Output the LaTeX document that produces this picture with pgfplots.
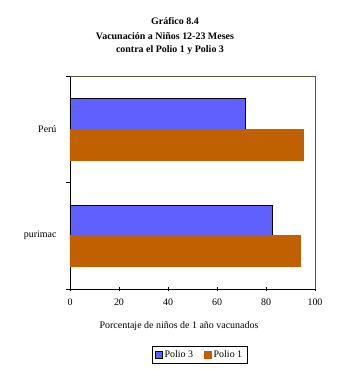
\documentclass[border=0pt]{standalone}
\usepackage{pgfplots}
\pgfplotsset{compat=1.18}
\usepackage{fontspec}
\setmainfont{Liberation Serif}
\definecolor{pblue}{RGB}{96,96,255}
\definecolor{porange}{RGB}{192,96,0}
\definecolor{frame}{RGB}{85,85,56}
\begin{document}
\begin{tikzpicture}
\begin{axis}[
  at={(0,0)}, anchor=south west,
  scale only axis, width=245bp, height=213bp,
  xbar, bar width=0.288,
  xmin=0, xmax=100, ymin=-0.5, ymax=1.5,
  axis x line*=bottom, axis y line*=left,
  axis line style={black, line width=0.6pt},
  xtick={0,20,...,100},
  tick align=outside,
  major tick length=4bp,
  x tick style={black, line width=0.6pt, yshift=2bp},
  ytick={-0.5,0.5,1.5},
  y tick label as interval,
  yticklabels={purimac,Perú},
  y tick style={black, line width=0.6pt},
  yticklabel style={anchor=east, xshift=-6bp, font=\fontsize{10}{11}\selectfont},
  xticklabel style={font=\fontsize{10}{11}\selectfont, yshift=-2bp},
  /pgf/number format/assume math mode=true,
  xlabel={Porcentaje de niños de 1 año vacunados},
  xlabel style={at={(axis description cs:0.445,0)}, anchor=center, yshift=-36.7bp, font=\fontsize{10}{11}\selectfont},
  legend columns=2,
  legend style={at={(rel axis cs:0.529,-0.31)}, anchor=center, draw=black, line width=0.6pt,
    font=\fontsize{10}{11}\selectfont, inner xsep=3bp, inner ysep=2.5bp,
    /tikz/every even column/.append style={column sep=9bp}},
  legend image code/.code={\draw[#1, line width=0.6pt] (0bp,-3.5bp) rectangle (7bp,3.5bp);},
  clip=false,
]
\addplot[fill=pblue, draw=black, line width=0.6pt, bar shift=0.144] coordinates {(82.4,0) (71.4,1)};
\addlegendentry{Polio 3}
\addplot[fill=porange, draw=porange, line width=0.6pt, bar shift=-0.144] coordinates {(94.2,0) (95.3,1)};
\addlegendentry{Polio 1}
\draw[frame, line width=0.6pt] (rel axis cs:0,1) -- (rel axis cs:1,1) -- (rel axis cs:1,0);
\end{axis}
\node[font=\bfseries\fontsize{10}{11}\selectfont] at (105bp,268.3bp) {Gráfico 8.4};
\node[font=\bfseries\fontsize{10}{11}\selectfont] at (95bp,253.3bp) {Vacunación a Niños 12-23 Meses};
\node[font=\bfseries\fontsize{10}{11}\selectfont] at (100bp,239bp) {contra el Polio 1 y Polio 3};
\pgfresetboundingbox
\useasboundingbox (-70bp,-80bp) rectangle (289bp,289bp);
\end{tikzpicture}
\end{document}
